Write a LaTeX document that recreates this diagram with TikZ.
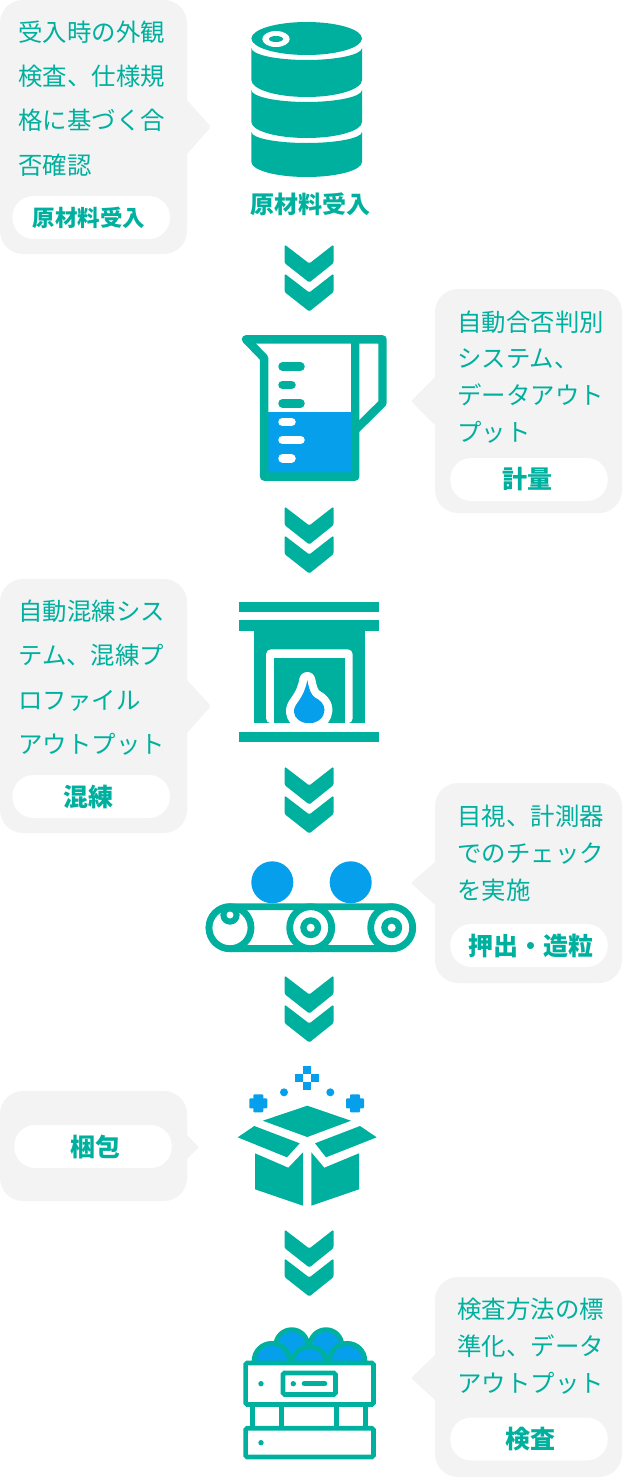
\documentclass[tikz,border=0pt]{standalone}
\usepackage{fontspec}
\setmainfont{Noto Sans CJK JP}
\definecolor{greenc}{RGB}{0,176,158}
\definecolor{bluec}{RGB}{5,159,235}
\definecolor{grayc}{RGB}{243,243,243}
\newcommand{\fsz}[2]{\fontsize{#1pt}{#2pt}\selectfont}
\newcommand{\flamepath}{(307.3,680) .. controls (306,688) and (303,695) .. (298,702) .. controls (295,706) and (294,708) .. (294,712) .. controls (294,718) and (301,723.3) .. (309,723.3) .. controls (318,723.3) and (324.5,717) .. (324.5,710) .. controls (324.5,704) and (320,700) .. (315,697.5) .. controls (311,695) and (309,689) .. (307.3,680) -- cycle}
\begin{document}
\begin{tikzpicture}[x=1pt,y=-1pt,
  wide/.style={text=greenc,font=\fsz{24.4}{44.3},align=left,inner sep=0pt,anchor=west},
  tight/.style={text=greenc,font=\fsz{24.4}{36.9},align=left,inner sep=0pt,anchor=west},
  pill/.style={fill=white,text=greenc,font=\fsz{25}{25}\bfseries,rounded corners=21pt,minimum width=157.5pt,minimum height=43pt,inner sep=0pt},
  chev/.style={fill=greenc,rounded corners=1.5pt},
  pale/.style={fill=grayc}]
\useasboundingbox (0,0) rectangle (622,1478);
\foreach \ya/\yb/\yc/\yd/\ye/\tx in {0/100/127/154/254/211,579/680/706/733/833/211,1091/1135/1147/1159/1201/199}
  \fill[pale] (90,\ya) [rounded corners=23pt] -- (187,\ya) [sharp corners] -- (187,\yb) [rounded corners=2pt] -- (\tx,\yc) [sharp corners] -- (187,\yd) [rounded corners=23pt] -- (187,\ye) -- (0,\ye) -- (0,\ya) -- cycle;
\foreach \ya/\yb/\yc/\yd/\ye in {289/377/401/425/513,783/862/883/905/983,1277/1355/1378/1400/1477}
  \fill[pale] (530,\ya) [rounded corners=23pt] -- (622,\ya) -- (622,\ye) -- (435,\ye) [sharp corners] -- (435,\yd) [rounded corners=2pt] -- (411,\yc) [sharp corners] -- (435,\yb) [rounded corners=23pt] -- (435,\ya) -- cycle;
\node[wide] (noteA) at (18.3,98.5) {受入時の外観\\検査、仕様規\\格に基づく合\\否確認};
\node[pill] (pillA) at (91.2,217.5) {\fsz{22.5}{24}\hspace*{-4pt}原材料受入};
\node[tight] (noteB) at (457.3,377) {自動合否判別\\システム、\\データアウト\\プット};
\node[pill] (pillB) at (529,479.5) {\hspace*{-3pt}計量};
\node[wide] (noteC) at (18.3,677.5) {自動混練シス\\テム、混練プ\\ロファイル\\アウトプット};
\node[pill] (pillC) at (91.2,796.5) {\hspace*{-5pt}混練};
\node[tight] (noteD) at (457.3,853) {目視、計測器\\でのチェック\\を実施};
\node[pill] (pillD) at (529,945.5) {\hspace*{4pt}押出・造粒};
\node[pill] (pillE) at (93,1146.5) {\hspace*{4pt}梱包};
\node[tight] (noteF) at (457.3,1346) {検査方法の標\\準化、データ\\アウトプット};
\node[pill] (pillF) at (529,1439) {\hspace*{3pt}検査};
\node[text=greenc,font=\fsz{24}{24}\bfseries,inner sep=0pt] (title) at (310.5,204) {原材料受入};
\foreach \y in {244.5,506.5,766.5,975.5,1229.5}
  \foreach \d in {0,29}
    \fill[chev] (284.5,\y+\d) -- (309.3,\y+\d+19) -- (333.6,\y+\d) -- (333.6,\y+\d+18.5) -- (309.3,\y+\d+38) -- (284.5,\y+\d+18.5) -- cycle;
% barrel
\fill[greenc] (306.7,38.5) ellipse[x radius=55.3pt,y radius=16.5pt];
\fill[white] (276,39) ellipse[x radius=13.7pt,y radius=8pt];
\fill[greenc] (276,39) ellipse[x radius=7pt,y radius=3pt];
\foreach \ya/\da/\yb/\db in {48/12/80/17,90/12/122/16,132/11/162/15}
  \fill[greenc] (251.4,\ya) .. controls ({251.4},{\ya+.55*\da}) and ({276},{\ya+\da}) .. ({306.7},{\ya+\da}) .. controls ({337},{\ya+\da}) and ({362},{\ya+.55*\da}) .. (362,\ya) -- (362,\yb) .. controls ({362},{\yb+.55*\db}) and ({337},{\yb+\db}) .. ({306.7},{\yb+\db}) .. controls ({276},{\yb+\db}) and ({251.4},{\yb+.55*\db}) .. (251.4,\yb) -- cycle;
% beaker
\fill[bluec] (266,412.3) rectangle (353,474);
\draw[greenc,line width=8.4pt,line join=round,line cap=round] (246,339.3) -- (382.5,339.3) -- (382.5,403) -- (355.2,430);
\draw[greenc,line width=8.4pt,line join=round] (355.2,339.3) -- (355.2,476.6) -- (264.1,476.6) -- (264.1,358) -- (246,339.3);
\foreach \xe/\ym/\col in {300.5/366.7/greenc,291.5/385/greenc,300.5/403.3/greenc,291.5/422/white,300.5/440/white,291.5/458.3/white}
  \draw[\col,line width=8.5pt,line cap=round] (282.5,\ym) -- (\xe,\ym);
% fireplace
\fill[greenc] (239.3,602.3) rectangle (379,612.3);
\fill[greenc] (239.3,620.3) rectangle (379,630.7);
\fill[greenc] (253.7,630.7) rectangle (365.3,723.3);
\fill[white,rounded corners=5pt] (266,723.3) -- (266,649.3) -- (352.7,649.3) -- (352.7,723.3) -- cycle;
\fill[greenc] (274,657.7) rectangle (344.7,723.3);
\draw[white,line width=16pt,line join=round] \flamepath;
\fill[bluec] \flamepath;
\fill[white] (240,723.3) rectangle (379,731.7);
\fill[greenc] (239.3,731.7) rectangle (379,741.7);
% conveyor
\fill[bluec] (272.3,882.3) circle[radius=21pt] (350.7,882.3) circle[radius=21pt];
\draw[greenc,line width=6.8pt,fill=white,rounded corners=21pt] (209.1,906.7) rectangle (412.3,948.6);
\foreach \x in {230,310.7,391.7} \draw[greenc,line width=6.8pt,fill=white] (\x,927.7) circle[radius=21pt];
\fill[greenc] (230,915) circle[radius=9.7pt] (310.7,927.7) circle[radius=10.5pt] (391.7,927.7) circle[radius=10.5pt];
\fill[white] (230,915) circle[radius=3.5pt] (310.7,927.7) circle[radius=4pt] (391.7,927.7) circle[radius=4pt];
% box
\fill[greenc] (307.3,1105.7) -- (351,1120.7) -- (307.3,1137) -- (262.7,1120.7) -- cycle;
\fill[greenc] (254.3,1126) -- (299.7,1143.3) -- (287,1157.3) -- (237.7,1137.3) -- cycle;
\fill[greenc] (360,1126) -- (315,1143.3) -- (326,1157.3) -- (376.7,1137.3) -- cycle;
\fill[greenc] (255,1153.3) -- (288.3,1167.7) -- (303,1152.3) -- (303,1205.7) -- (255,1189.3) -- cycle;
\fill[greenc] (359,1153.3) -- (324.3,1167.7) -- (311.3,1152.3) -- (311.3,1205.7) -- (359,1189.3) -- cycle;
\foreach \x/\y in {307/1070,299/1077.7,315/1077.7,307/1085.7} \fill[bluec] (\x-4,\y-4) rectangle (\x+4,\y+4);
\foreach \x in {258.3,355} {
  \fill[bluec,rounded corners=1pt] (\x-9,1098.3) rectangle (\x+9,1108.3);
  \fill[bluec,rounded corners=1pt] (\x-5,1094.3) rectangle (\x+5,1112.3);
}
\fill[bluec] (284,1092.3) circle[radius=4pt] (330.3,1092.3) circle[radius=4pt];
% crate
\begin{scope}
\clip (235,1320) rectangle (385,1362);
\foreach \x/\y/\r in {291.7/1345.6/16,326/1345.6/16,271.7/1361/17.7,347.3/1361/17.7,309.3/1364/17.4}
  \draw[greenc,line width=4.7pt,fill=bluec] (\x,\y) circle[radius=\r pt];
\end{scope}
\foreach \x in {252.7,281.7,336.7,365.7} \draw[greenc,line width=4.7pt] (\x,1404) -- (\x,1428);
\draw[greenc,line width=4.7pt,rounded corners=1.5pt] (245.6,1363) rectangle (373.4,1404.4);
\draw[greenc,line width=4.7pt,rounded corners=1.5pt] (283,1373) rectangle (335.4,1394.4);
\draw[greenc,line width=4.7pt,rounded corners=1.5pt] (245.6,1428.3) rectangle (373.4,1457);
\fill[greenc] (261,1383.7) circle[radius=2.7pt] (293.3,1383.7) circle[radius=2.7pt] (261,1442.7) circle[radius=2.7pt];
\draw[greenc,line width=5pt,line cap=round] (304.2,1383.7) -- (324.8,1383.7);
\end{tikzpicture}
\end{document}
